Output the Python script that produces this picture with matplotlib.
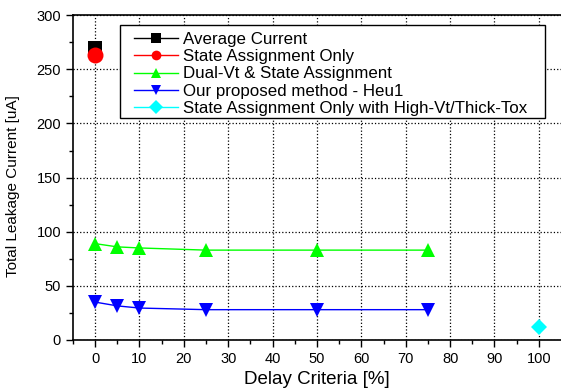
import matplotlib
matplotlib.use("Agg")
import matplotlib.pyplot as plt
from matplotlib.patches import Rectangle

plt.rcParams['font.family'] = ['Liberation Sans', 'DejaVu Sans']

# data
delay = [0, 5, 10, 25, 50, 75]
avg_x, avg_y = [0], [270]
sa_x, sa_y = [0], [263]
dualvt = [89, 86, 85, 83, 83, 83]
heu1 = [35, 31.5, 29.5, 28, 28, 28]
hvt_x, hvt_y = [100], [12]

fig = plt.figure(figsize=(5.61, 3.89), dpi=100)
ax = fig.add_axes([0.130, 0.126, 0.870, 0.835])

ax.plot(avg_x, avg_y, color='black', marker='s', ms=10, mew=0, lw=1,
        label='Average Current', zorder=3)
ax.plot(sa_x, sa_y, color='red', marker='o', ms=11.5, mew=0, lw=1,
        label='State Assignment Only', zorder=4)
ax.plot(delay, dualvt, color='#00ff00', marker='^', ms=10, mew=0, lw=1,
        label='Dual-Vt & State Assignment', zorder=3)
ax.plot(delay, heu1, color='#0000ff', marker='v', ms=10, mew=0, lw=1,
        label='Our proposed method - Heu1', zorder=3)
ax.plot(hvt_x, hvt_y, color='#00ffff', marker='D', ms=8.5, mew=0, lw=1,
        label='State Assignment Only with High-Vt/Thick-Tox', zorder=3)

ax.set_xlim(-5, 105)
ax.set_ylim(0, 300)
ax.set_xticks(range(0, 101, 10))
ax.set_xticks(range(-5, 105, 5), minor=True)
ax.set_yticks(range(0, 301, 50))
ax.set_yticks(range(0, 301, 25), minor=True)
ax.tick_params(which='both', direction='out', labelsize=10.5, width=1)
ax.tick_params(which='major', length=5)
ax.tick_params(which='minor', length=3)
ax.grid(which='major', linestyle=':', color='black', lw=0.9)
ax.spines['right'].set_visible(False)
for s in ['left', 'bottom', 'top']:
    ax.spines[s].set_linewidth(1.2)

ax.set_xlabel('Delay Criteria [%]', fontsize=13.5)
ax.set_ylabel('Total Leakage Current [uA]', fontsize=11)
ax.yaxis.set_label_coords(-0.109, 0.474)

# legend frame drawn separately so the side padding matches the original
frame = Rectangle((0.0963, 0.683), 0.8707, 0.286, transform=ax.transAxes,
                  facecolor='white', edgecolor='black', lw=1, zorder=5)
ax.add_patch(frame)
leg = ax.legend(loc='upper left', bbox_to_anchor=(0.125, 0.949), fontsize=12.2,
                frameon=False, handlelength=2.6, borderpad=0, labelspacing=0.14,
                handletextpad=0.3, borderaxespad=0)
leg.set_zorder(6)
for h in leg.legend_handles:
    h.set_markersize(7)

fig.savefig('out.png', dpi=100)
